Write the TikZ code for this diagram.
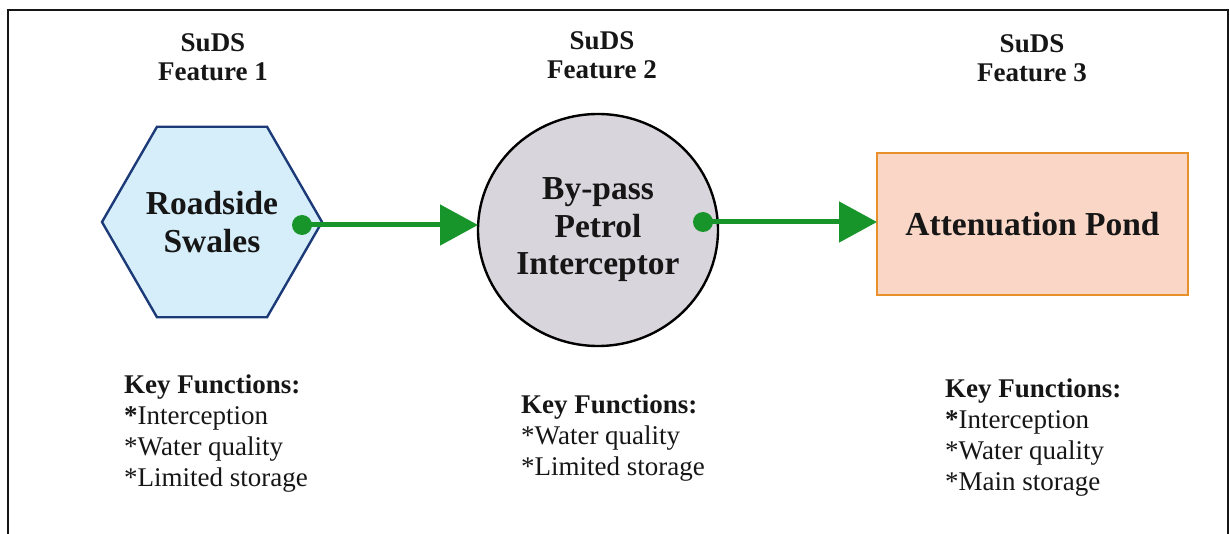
\documentclass[tikz,border=0pt]{standalone}
\usepackage{fontspec}
\setmainfont{Liberation Serif}
\usetikzlibrary{shapes.geometric,arrows.meta}

\definecolor{swalefill}{HTML}{D6EEF9}
\definecolor{swaleedge}{HTML}{1C3A78}
\definecolor{sepfill}{HTML}{D9D5DC}
\definecolor{pondfill}{HTML}{F9D6C6}
\definecolor{pondedge}{HTML}{E8902A}
\definecolor{flowgreen}{HTML}{17952A}
\definecolor{ink}{HTML}{161616}

% multi-line nodes below are placed by the baseline of their last line
\tikzset{
  title/.style={font=\bfseries\fontsize{27}{29}\selectfont, align=center, anchor=base, inner sep=0pt, text=ink},
  label/.style={font=\bfseries\fontsize{33.5}{37.5}\selectfont, align=center, text=ink, inner sep=0pt, outer sep=0pt},
  keylist/.style={font=\fontsize{27}{30.8}\selectfont, align=left, anchor=base west, inner sep=0pt, text=ink},
  flowline/.style={draw=flowgreen, line width=5pt, -{Triangle[length=38pt,width=40pt]}},
  flowdot/.style={fill=flowgreen},
}

\begin{document}
\begin{tikzpicture}[x=1pt,y=-1pt]
  \useasboundingbox (0,0) rectangle (1230,534);
  % outer frame (its lower edge runs below the page)
  \draw[line width=2.8pt, ink] (8,560) -- (8,10) -- (1228,10) -- (1228,560);

  % feature titles
  \node[title] (t1) at (213,81) {SuDS\\Feature 1};
  \node[title] (t2) at (602,79) {SuDS\\Feature 2};
  \node[title] (t3) at (1032,82) {SuDS\\Feature 3};

  % feature shapes
  \node[label, regular polygon, regular polygon sides=6, minimum size=220pt,
        fill=swalefill, draw=swaleedge, line width=2.4pt] (swale) at (212,222)
        {Roadside\\Swales};
  \node[label, ellipse, minimum width=240pt, minimum height=232pt,
        fill=sepfill, draw=black, line width=2.4pt] (sep) at (598,230)
        {By-pass\\Petrol\\Interceptor};
  \node[label, rectangle, minimum width=311pt, minimum height=142pt,
        fill=pondfill, draw=pondedge, line width=2.4pt] (pond) at (1032.5,224)
        {Attenuation Pond};

  % flow connectors
  \coordinate (s1) at (302,225);
  \coordinate (s2) at (703,222);
  \draw[flowline] (s1) -- (s1 -| sep.west);
  \fill[flowdot] (s1) circle (10pt);
  \draw[flowline] (s2) -- (s2 -| pond.west);
  \fill[flowdot] (s2) circle (10pt);

  % key functions
  \node[keylist] (k1) at (124,486)
    {\textbf{Key Functions:}\\\textbf{*}Interception\\*Water quality\\*Limited storage};
  \node[keylist] (k2) at (521,475)
    {\textbf{Key Functions:}\\*Water quality\\*Limited storage};
  \node[keylist] (k3) at (945,490)
    {\textbf{Key Functions:}\\\textbf{*}Interception\\*Water quality\\*Main storage};
\end{tikzpicture}
\end{document}
